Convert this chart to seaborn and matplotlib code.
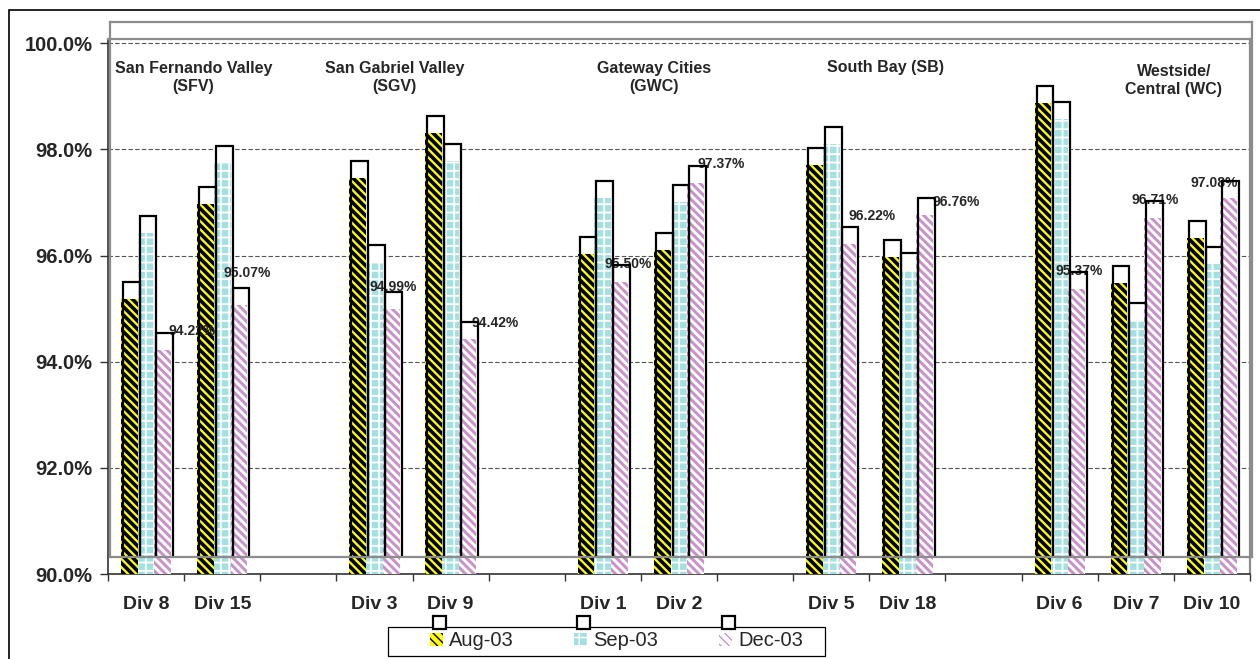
import numpy as np
import pandas as pd
import matplotlib
matplotlib.use("Agg")
import matplotlib.pyplot as plt
import seaborn as sns
from matplotlib.patches import Patch, Rectangle

# ---------------- data ----------------
divisions = ["Div 8", "Div 15", "Div 3", "Div 9", "Div 1", "Div 2",
             "Div 5", "Div 18", "Div 6", "Div 7", "Div 10"]
aug_03 = [95.19, 96.98, 97.47, 98.30, 96.02, 96.10, 97.70, 95.97, 98.88, 95.49, 96.34]
sep_03 = [96.42, 97.75, 95.87, 97.79, 97.09, 97.00, 98.11, 95.73, 98.58, 94.78, 95.85]
dec_03 = [94.22, 95.07, 94.99, 94.42, 95.50, 97.37, 96.22, 96.76, 95.37, 96.71, 97.08]
series_names = ["Aug-03", "Sep-03", "Dec-03"]
slot_order = ["Div 8", "Div 15", " ", "Div 3", "Div 9", "  ", "Div 1", "Div 2", "   ",
              "Div 5", "Div 18", "    ", "Div 6", "Div 7", "Div 10"]
region_titles = ["San Fernando Valley\n(SFV)", "San Gabriel Valley\n(SGV)",
                 "Gateway Cities\n(GWC)", "South Bay (SB)", "Westside/\nCentral (WC)"]
y_ticks = [90, 92, 94, 96, 98, 100]

# ---------------- layout / style (not data) ----------------
region_x = [0.62, 3.26, 6.67, 9.71, 13.5]
region_y = [99.35, 99.35, 99.35, 99.55, 99.29]
label_dx = [0.60, 0.33, 0.24, 0.59, 0.33, 0.55, 0.53, 0.64, 0.25, 0.26, 0.03]
label_dy = [0.35, 0.61, 0.41, 0.30, 0.35, 0.36, 0.53, 0.24, 0.33, 0.34, 0.28]

sns.set_style("white")
plt.rcParams["font.family"] = ["Liberation Sans", "DejaVu Sans"]

styles = {
    "Aug-03": dict(face="#FFFF00", hatchc="#000000", hatch="\\\\\\\\", hlw=2.6),
    "Sep-03": dict(face="#A3E0E0", hatchc="#FFFFFF", hatch="++", hlw=1.3),
    "Dec-03": dict(face="#FFFFFF", hatchc="#C994C9", hatch="\\\\\\\\", hlw=2.2),
}

W, H = 1260, 659
fig = plt.figure(figsize=(W / 100, H / 100), dpi=100)
fig.patch.set_facecolor("white")


def box(l, t, r, b):
    return [l / W, 1 - b / H, (r - l) / W, (b - t) / H]


main_box = box(108, 39, 1250, 574)
over_box = box(110, 22, 1252, 557)
ax_grid = fig.add_axes(main_box, zorder=1)
ax_white = fig.add_axes(over_box, zorder=2)
ax_fill = fig.add_axes(main_box, zorder=3)
ax_edge = fig.add_axes(over_box, zorder=4)

df = pd.DataFrame({
    "Division": divisions * 3,
    "Series": np.repeat(series_names, len(divisions)),
    "Value": aug_03 + sep_03 + dec_03,
})

common = dict(data=df, x="Division", y="Value", hue="Series", order=slot_order,
              hue_order=series_names, width=0.66, errorbar=None, legend=False)

YMIN, YMAX = 90, 100.08

# white backing of the secondary (shifted) bars
sns.barplot(ax=ax_white, palette=["white"] * 3, **common)
for cont in ax_white.containers:
    for p in cont.patches:
        p.set_facecolor("white")
        p.set_linewidth(0)

# patterned primary bars
sns.barplot(ax=ax_fill, palette=[styles[s]["face"] for s in series_names], **common)
for cont, s in zip(ax_fill.containers, series_names):
    st = styles[s]
    for p in cont.patches:
        p.set_facecolor(st["face"])
        p.set_edgecolor(st["hatchc"])
        p.set_linewidth(0)
        p.set_hatch(st["hatch"])
        if hasattr(p, "set_hatch_linewidth"):
            p.set_hatch_linewidth(st["hlw"])

# outline bars of the secondary axis
sns.barplot(ax=ax_edge, palette=["white"] * 3, **common)
for cont in ax_edge.containers:
    for p in cont.patches:
        p.set_facecolor("none")
        p.set_edgecolor("black")
        p.set_linewidth(1.6)

for ax in (ax_grid, ax_white, ax_fill, ax_edge):
    ax.set_xlim(-0.5, len(slot_order) - 0.5)
    ax.set_ylim(YMIN, YMAX)
    ax.set_xlabel("")
    ax.set_ylabel("")

for ax in (ax_white, ax_fill):
    ax.axis("off")

# secondary axis frame
ax_edge.set_xticks([])
ax_edge.set_yticks([])
ax_edge.patch.set_alpha(0)
for sp in ax_edge.spines.values():
    sp.set_visible(True)
    sp.set_color("#8C8C8C")
    sp.set_linewidth(1.6)

# primary axis: grid, ticks, labels
ax_grid.set_facecolor("white")
ax_grid.set_yticks(y_ticks)
ax_grid.set_yticklabels([f"{v:.1f}%" for v in y_ticks], fontsize=14.5, fontweight="bold")
ax_grid.yaxis.grid(True, linestyle=(0, (4, 2)), color="#555555", linewidth=0.8)
ax_grid.set_axisbelow(True)
ax_grid.tick_params(axis="y", direction="out", length=6, width=1, pad=5, left=True, color="#333333")
ax_grid.set_xticks(range(len(slot_order)))
ax_grid.set_xticklabels(slot_order, fontsize=14, fontweight="bold")
ax_grid.set_xticks(np.arange(-0.5, len(slot_order), 1.0), minor=True)
ax_grid.tick_params(axis="x", which="major", length=0, pad=16)
ax_grid.tick_params(axis="x", which="minor", direction="out", length=5, width=1,
                    bottom=True, color="#333333")
for side in ("left", "bottom"):
    ax_grid.spines[side].set_color("#333333")
    ax_grid.spines[side].set_linewidth(1.2)
for side in ("top", "right"):
    ax_grid.spines[side].set_color("#8C8C8C")
    ax_grid.spines[side].set_linewidth(1.6)

# data labels for Dec-03
for i, (d, v) in enumerate(zip(divisions, dec_03)):
    xi = slot_order.index(d)
    ax_fill.text(xi + label_dx[i], v + label_dy[i], f"{v:.2f}%", ha="center", va="center",
                 fontsize=10, fontweight="bold", zorder=10, clip_on=False)

# region titles
for t, x, y in zip(region_titles, region_x, region_y):
    ax_fill.text(x, y, t, ha="center", va="center", fontsize=11.5, fontweight="bold",
                 linespacing=1.25, zorder=10, clip_on=False)

# legend frame
fig.patches.append(Rectangle((388 / W, 1 - 656 / H), (825 - 388) / W, 29 / H,
                             transform=fig.transFigure, facecolor="white",
                             edgecolor="black", linewidth=0.9, zorder=5))

fill_handles = [Patch(facecolor=styles[s]["face"], edgecolor=styles[s]["hatchc"],
                      hatch=styles[s]["hatch"], linewidth=0) for s in series_names]
for h, s in zip(fill_handles, series_names):
    if hasattr(h, "set_hatch_linewidth"):
        h.set_hatch_linewidth(styles[s]["hlw"])
leg_kw = dict(ncol=3, frameon=False, borderpad=0, handlelength=0.65, handleheight=0.65,
              handletextpad=0.3, columnspacing=3.0, prop={"size": 14.5},
              bbox_transform=fig.transFigure, loc="center left")
leg1 = fig.legend(fill_handles, series_names, bbox_to_anchor=(420 / W, 1 - 641 / H), **leg_kw)
leg1.set_zorder(6)

edge_handles = [Patch(facecolor="white", edgecolor="black", linewidth=1.6) for _ in series_names]
leg2 = fig.legend(edge_handles, series_names, bbox_to_anchor=(423 / W, 1 - 624 / H), **leg_kw)
for t in leg2.get_texts():
    t.set_alpha(0)
leg2.set_zorder(7)

# outer chart border
fig.patches.append(Rectangle((9 / W, -0.1), 1.2, 1 - 10 / H + 0.1, transform=fig.transFigure,
                             facecolor="none", edgecolor="black", linewidth=1.2,
                             zorder=10, clip_on=False))

fig.savefig("out.png", dpi=100, facecolor="white")
